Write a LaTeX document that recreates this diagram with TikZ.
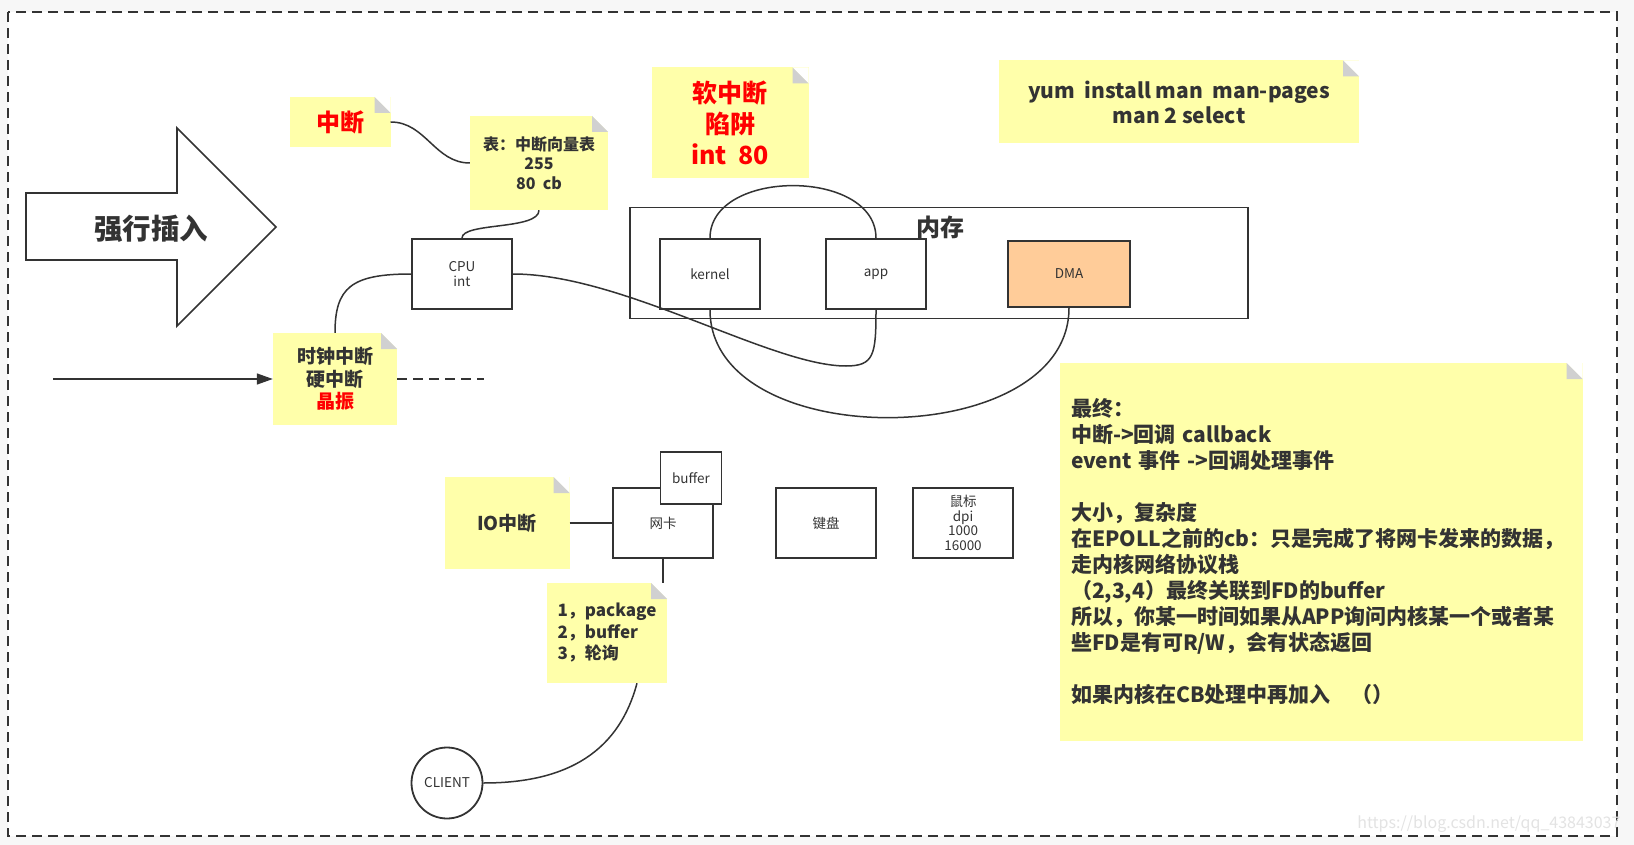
\documentclass[tikz,border=0pt]{standalone}
\usepackage{fontspec}
\setmainfont{Noto Sans CJK SC}
\usetikzlibrary{arrows.meta,positioning,calc}
\definecolor{notebg}{HTML}{FFFFAA}
\definecolor{fold}{HTML}{D0D0D0}
\definecolor{ink}{HTML}{333333}
\definecolor{dmabg}{HTML}{FFCC99}
\definecolor{pagebg}{HTML}{F7F7F7}
\newcommand\setfs[2]{\fontsize{#1}{#2}\selectfont}

\begin{document}
\begin{tikzpicture}[x=1pt,y=-1pt,
  note/.style={fill=notebg, inner sep=0pt, align=center, text=ink,
    path picture={
      \fill[white] (path picture bounding box.north east) -- ++(-16pt,0pt) -- ++(16pt,-16pt) -- cycle;
      \fill[fold] (path picture bounding box.north east) ++(-16pt,0pt) -- ++(0pt,-16pt) -- ++(16pt,0pt) -- cycle;}},
  block/.style={rectangle, draw=ink, line width=1.8pt, fill=white, text=ink, align=center, inner sep=0pt, font=\setfs{13.5}{15}},
  line/.style={draw=ink, line width=1.5pt}]

  \useasboundingbox (0,0) rectangle (1634,845);
  \fill[pagebg] (0,0) rectangle (1634,845);
  \fill[white] (8,12) rectangle (1617,836);
  \draw[ink, line width=1.7pt, dash pattern=on 10pt off 6pt] (8,12) rectangle (1617,836);

  % big arrow
  \draw[ink, line width=1.7pt, fill=white] (26,193) -- (177,193) -- (177,128) -- (276,227) -- (177,326) -- (177,260) -- (26,260) -- cycle;
  \node[text=ink, font=\bfseries\setfs{28.5}{32}] (insert) at (151,229) {强行插入};

  % notes
  \node[note, minimum width=101pt, minimum height=50pt, text=red, font=\bfseries\setfs{24}{28}] (intr) at (340,122) {中断};
  \node[note, minimum width=138pt, minimum height=94pt, font=\bfseries\setfs{16}{19.5}] (vtable) at (539,163) {表：中断向量表\\255\\80\ \ cb};
  \node[note, minimum width=124pt, minimum height=92pt, font=\bfseries\setfs{19}{22.7}] (clock) at (335,379) {时钟中断\\硬中断\\\textcolor{red}{晶振}};
  \node[note, minimum width=157pt, minimum height=111pt, text=red, font=\bfseries\setfs{25}{31}] (soft) at (730,123) {软中断\\陷阱\\int\ \ 80};
  \node[note, minimum width=360pt, minimum height=83pt, font=\bfseries\setfs{21}{25}] (yum) at (1179,102) {yum\ \ install man\ \ man-pages\\man 2 select};
  \node[note, minimum width=125pt, minimum height=92pt, font=\bfseries\setfs{19}{23}] (io) at (507,523) {IO中断};
  \node[note, minimum width=120pt, minimum height=100pt, align=left, font=\bfseries\setfs{17}{21.5}] (pkg) at (607,633) {1，package\\2，buffer\\3，轮询};
  \node[note, minimum width=523pt, minimum height=378pt, text width=500pt, align=left, font=\bfseries\setfs{21}{26}] (final) at (1321,552)
    {最终：\\中断->回调 callback\\event 事件 ->回调处理事件\\[26pt]大小，复杂度\\在EPOLL之前的cb：只是完成了将网卡发来的数据，\\走内核网络协议栈\\（2,3,4）最终关联到FD的buffer\\所以，你某一时间如果从APP询问内核某一个或者某\\些FD是有可R/W，会有状态返回\\[26pt]如果内核在CB处理中再加入\ \ \ （）};

  % boxes
  \node[block, minimum width=100pt, minimum height=70pt] (cpu) at (462,274) {CPU\\int};
  \node[block, fill=none, minimum width=618pt, minimum height=111pt] (mem) at (939,263) {};
  \node[text=ink, font=\bfseries\setfs{24}{26}] (memlabel) at (940,227) {内存};
  \node[block, minimum width=100pt, minimum height=70pt] (kernel) at (710,274) {kernel};
  \node[block, minimum width=100pt, minimum height=70pt] (app) at (876,274) {app};
  \node[block, fill=dmabg, minimum width=122pt, minimum height=66pt] (dma) at (1069,274) {DMA};
  \node[block, minimum width=100pt, minimum height=70pt] (nic) at (663,523) {网卡};
  \node[block, minimum width=61pt, minimum height=52pt] (buf) at (691,478) {buffer};
  \node[block, minimum width=100pt, minimum height=70pt] (kbd) at (826,523) {键盘};
  \node[block, minimum width=100pt, minimum height=70pt, font=\setfs{13.5}{14.5}] (mouse) at (963,523) {鼠标\\dpi\\1000\\16000};
  \node[block, circle, minimum size=71pt] (client) at (447,783) {CLIENT};

  \coordinate (start) at (53,379);
  \coordinate (dashend) at (484,379);
  \coordinate (dip) at (846,366);

  % connectors
  \draw[line] (intr.east) .. controls +(35,0) and +(-35,0) .. (vtable.west);
  \draw[line] (vtable.south) .. controls +(0,20) and +(0,-16) .. (cpu.north);
  \draw[line] (cpu.west) .. controls +(-60,0) and +(0,-45) .. (clock.north);
  \draw[line, -{Triangle[length=16pt,width=11pt]}] (start) -- (clock.west);
  \draw[line, dash pattern=on 10pt off 6pt] (clock.east) -- (dashend);
  \draw[line] (cpu.east) .. controls +(110,0) and +(-75,0) .. (dip) .. controls +(28,0) and +(0,45) .. (app.south);
  \draw[line] (kernel.north) .. controls +(0,-70) and +(0,-70) .. (app.north);
  \draw[line] (kernel.south) .. controls +(0,145) and +(0,145) .. (dma.south);
  \draw[line] (io.east) -- (nic.west);
  \draw[line] (nic.south) -- (nic.south |- pkg.north);
  \draw[line] ([xshift=30pt]pkg.south) .. controls +(-20,75) and +(75,0) .. (client.east);

  \node[text=black!11, font=\setfs{16}{18}, anchor=east] (wm) at (1624,824) {https://blog.csdn.net/qq\_43843037};
\end{tikzpicture}
\end{document}
